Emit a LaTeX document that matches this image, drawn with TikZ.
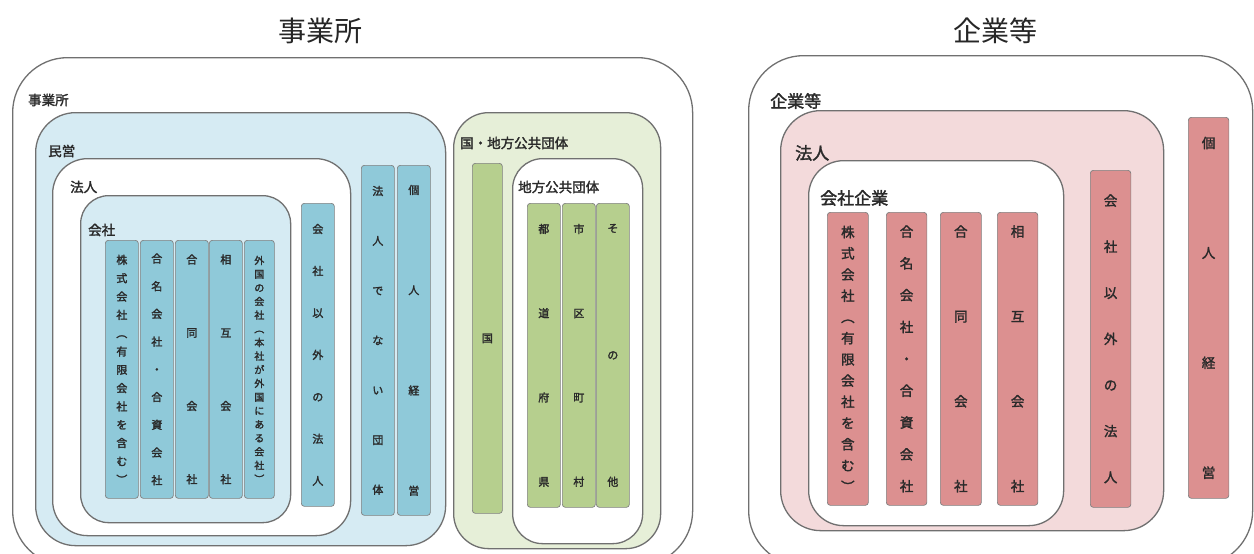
\documentclass[tikz,border=0pt]{standalone}
\usepackage{fontspec}
\setmainfont{Noto Sans CJK JP}
\newfontfamily\jpb{Noto Sans CJK JP}[FakeBold=2]
\definecolor{blueBox}{HTML}{D6EBF3}
\definecolor{blueCol}{HTML}{8FC9D9}
\definecolor{greenBox}{HTML}{E6EFD8}
\definecolor{greenCol}{HTML}{B6CF8E}
\definecolor{pinkBox}{HTML}{F3DADB}
\definecolor{pinkCol}{HTML}{DC9090}
\definecolor{linec}{HTML}{707070}
\definecolor{txtc}{HTML}{2A2A2A}
\ExplSyntaxOn
\NewDocumentCommand\vchars{m}{
  \seq_clear:N \l_tmpa_seq
  \tl_map_inline:nn {#1} { \seq_put_right:Nn \l_tmpa_seq {##1} }
  \seq_use:Nn \l_tmpa_seq { \par\vfill }
}
\ExplSyntaxOff
\newcommand\vcol[2]{\parbox[c][#1pt][s]{3em}{\centering\vchars{#2}\par}}
\newcommand\colnode[8]{\node[#1, minimum width=#5pt, minimum height=#6pt] (#2) at (#3,#4) {\vcol{#7}{#8}};}
\begin{document}
\begin{tikzpicture}[x=1pt,y=-1pt,
  frame/.style={draw=linec, line width=1.3pt, rounded corners=#1, anchor=north west, inner sep=0pt},
  column/.style={draw=black!50, line width=0.7pt, rounded corners=3pt, anchor=north west, inner sep=0pt, text=txtc, font=\jpb\fontsize{11}{13}\selectfont},
  bcol/.style={column, fill=blueCol},
  gcol/.style={column, fill=greenCol},
  pcol/.style={column, fill=pinkCol, font=\jpb\fontsize{13.5}{15}\selectfont},
  lab/.style={anchor=west, inner sep=0pt, text=txtc, font=\jpb\fontsize{13.5}{15}\selectfont},
  rlab/.style={lab, font=\jpb\fontsize{17}{19}\selectfont},
  title/.style={inner sep=0pt, text=black!85, font=\fontsize{28}{30}\selectfont}]
\path[use as bounding box] (0,0) rectangle (1254,554);
\clip (0,0) rectangle (1254,554);
% titles
\node[title] (t1) at (320,31) {事業所};
\node[title] (t2) at (995,31) {企業等};
% ===== left: 事業所 =====
\node[frame=55, fill=white, minimum width=680pt, minimum height=508pt] (jig) at (12,57) {};
\node[lab] (ljig) at (28,100) {事業所};
\node[frame=40, fill=blueBox, minimum width=410pt, minimum height=433pt] (min) at (35,112) {};
\node[lab] (lmin) at (48,151) {民営};
\node[frame=35, fill=white, minimum width=298pt, minimum height=377pt] (hoj) at (52,158) {};
\node[lab] (lhoj) at (70,187) {法人};
\node[frame=28, fill=blueBox, minimum width=210pt, minimum height=327pt] (kai) at (80,195) {};
\node[lab] (lkai) at (88,230) {会社};
\colnode{bcol}{k1}{105}{240}{31}{258}{229}{株式会社︵有限会社を含む︶}
\colnode{bcol}{k2}{140}{240}{30}{258}{231}{合名会社・合資会社}
\colnode{bcol}{k3}{175}{240}{30}{258}{229}{合同会社}
\colnode{bcol}{k4}{209}{240}{30}{258}{229}{相互会社}
\colnode{bcol,font=\jpb\fontsize{10}{12}\selectfont}{k5}{244}{240}{30}{258}{227}{外国の会社︵本社が外国にある会社︶}
\colnode{bcol}{k6}{301}{203}{30}{303}{261}{会社以外の法人}
\colnode{bcol}{k7}{361}{165}{31}{350}{308}{法人でない団体}
\colnode{bcol}{k8}{397}{165}{30}{350}{310}{個人経営}
% 国・地方公共団体
\node[frame=35, fill=greenBox, minimum width=207pt, minimum height=436pt] (kok) at (453,112) {};
\node[lab] (lkok) at (460,143) {国・地方公共団体};
\node[gcol, minimum width=30pt, minimum height=350pt] (g1) at (472,163) {国};
\node[frame=30, fill=white, minimum width=130pt, minimum height=385pt] (chi) at (512,158) {};
\node[lab] (lchi) at (518,187) {地方公共団体};
\colnode{gcol}{g2}{527}{203}{30}{304}{262}{都道府県}
\colnode{gcol}{g3}{562}{203}{29}{304}{262}{市区町村}
\colnode{gcol}{g4}{596}{203}{29}{304}{262}{その他}
% ===== right: 企業等 =====
\node[frame=55, fill=white, minimum width=504pt, minimum height=510pt] (kig) at (748,55) {};
\node[rlab] (lkig) at (770,101) {企業等};
\node[frame=40, fill=pinkBox, minimum width=383pt, minimum height=420pt] (rhoj) at (780,110) {};
\node[rlab] (lrhoj) at (795,153) {法人};
\node[frame=35, fill=white, minimum width=255pt, minimum height=365pt] (kgk) at (808,160) {};
\node[rlab] (lkgk) at (820,198) {会社企業};
\colnode{pcol}{p1}{827}{212}{41}{293}{266}{株式会社︵有限会社を含む︶}
\colnode{pcol}{p2}{886}{212}{40}{293}{266}{合名会社・合資会社}
\colnode{pcol}{p3}{940}{212}{41}{293}{266}{合同会社}
\colnode{pcol}{p4}{997}{212}{40}{293}{266}{相互会社}
\colnode{pcol}{p5}{1090}{170}{40}{337}{288}{会社以外の法人}
\colnode{pcol}{p6}{1188}{117}{40}{381}{341}{個人経営}
\end{tikzpicture}
\end{document}
